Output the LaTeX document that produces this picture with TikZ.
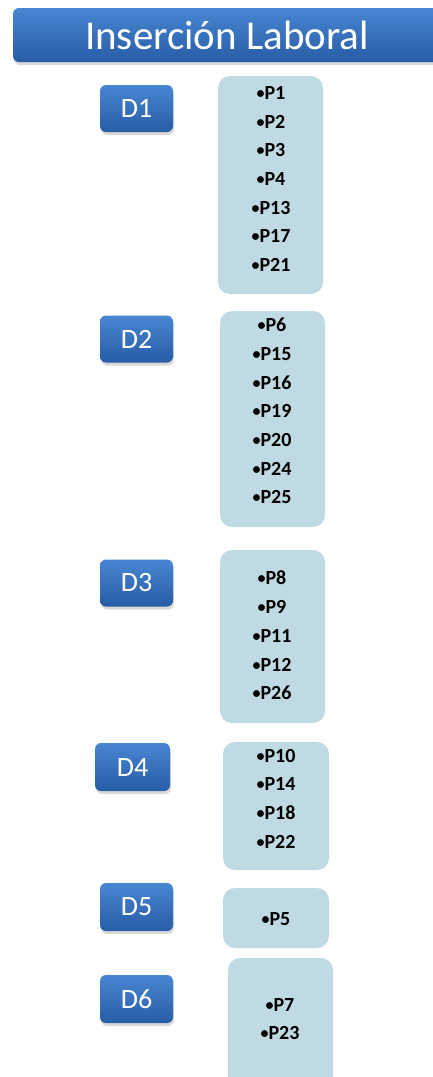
\documentclass[tikz,border=0pt]{standalone}
\usepackage{fontspec}
\setmainfont{Carlito}
\usetikzlibrary{shadows}

\definecolor{dimtop}{RGB}{72,134,210}
\definecolor{dimbot}{RGB}{40,92,166}
\definecolor{itemfill}{RGB}{192,218,227}

% small bullet before each item
\newcommand\pbul{{\fontsize{16}{16}\selectfont\raisebox{1pt}{•}}}

\tikzset{
  dimbox/.style={rounded corners=6pt, top color=dimtop, bottom color=dimbot,
    text=white, font=\fontsize{28}{30}\selectfont,
    drop shadow={opacity=0.3, shadow xshift=1pt, shadow yshift=-3pt}},
  itembox/.style={rounded corners=12pt, fill=itemfill},
  items/.style={font=\fontsize{20}{28.7}\selectfont\bfseries, align=center, inner sep=0pt}
}

\begin{document}
\begin{tikzpicture}[x=1pt, y=-1pt]
    \useasboundingbox (0,0) rectangle (432,1077);

    % title
    \node[dimbox, minimum width=428pt, minimum height=54pt,
      font=\fontsize{41}{43}\selectfont] (title) at (227,35) {Inserción Laboral};

    % dimensions
    \node[dimbox, minimum width=73pt, minimum height=47pt] (d1) at (136.5,108.5) {D1};
    \node[dimbox, minimum width=73pt, minimum height=47pt] (d2) at (136.5,339) {D2};
    \node[dimbox, minimum width=73pt, minimum height=47pt] (d3) at (136.5,583) {D3};
    \node[dimbox, minimum width=75pt, minimum height=48pt] (d4) at (132.5,767) {D4};
    \node[dimbox, minimum width=73pt, minimum height=48pt] (d5) at (136.5,907) {D5};
    \node[dimbox, minimum width=73pt, minimum height=48pt] (d6) at (136.5,999) {D6};

    % item boxes
    \node[itembox, minimum width=105pt, minimum height=218pt] (b1) at (270.5,185) {};
    \node[itembox, minimum width=105pt, minimum height=216pt] (b2) at (272.5,419) {};
    \node[itembox, minimum width=105pt, minimum height=173pt] (b3) at (272.5,636.5) {};
    \node[itembox, minimum width=106pt, minimum height=128pt] (b4) at (276,806) {};
    \node[itembox, minimum width=106pt, minimum height=60pt] (b5) at (276,918) {};
    \node[itembox, minimum width=105pt, minimum height=134pt] (b6) at (280.5,1025) {};

    % item lists
    \node[items] (l1) at (271,179) {\pbul P1\\\pbul P2\\\pbul P3\\\pbul P4\\\pbul P13\\\pbul P17\\\pbul P21};
    \node[items] (l2) at (272,411) {\pbul P6\\\pbul P15\\\pbul P16\\\pbul P19\\\pbul P20\\\pbul P24\\\pbul P25};
    \node[items] (l3) at (272,635.5) {\pbul P8\\\pbul P9\\\pbul P11\\\pbul P12\\\pbul P26};
    \node[items] (l4) at (276,798.5) {\pbul P10\\\pbul P14\\\pbul P18\\\pbul P22};
    \node[items] (l5) at (276,919) {\pbul P5};
    \node[items] (l6) at (280,1019) {\pbul P7\\\pbul P23};
\end{tikzpicture}
\end{document}
